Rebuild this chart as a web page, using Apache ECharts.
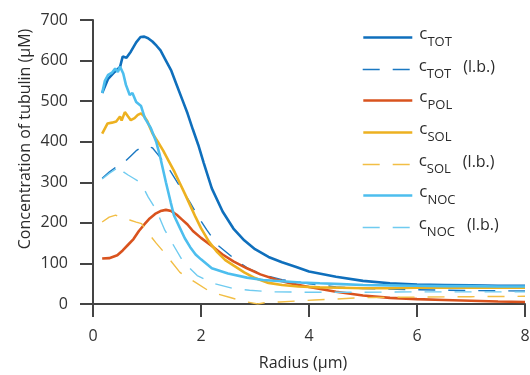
<!DOCTYPE html>
<html>
<head>
<meta charset="utf-8">
<script src="https://cdn.jsdelivr.net/npm/echarts@6/dist/echarts.min.js"></script>
<style>html,body{margin:0;padding:0;background:#fff}#c{width:530px;height:375px}</style>
</head>
<body>
<div id="c"></div>
<script>
// ---- data (radius in µm, concentration in µM) ----
const xTicks = [0, 2, 4, 6, 8];
const yTicks = [0, 100, 200, 300, 400, 500, 600, 700];

const rTOT = [0.17,0.28,0.4,0.5,0.55,0.62,0.7,0.8,0.88,0.95,1.02,1.1,1.18,1.25,1.35,1.45,1.55,1.65,1.75,1.85,1.95,2.05,2.2,2.4,2.6,2.8,3.0,3.25,3.5,3.75,4.0,4.5,5.0,5.5,6.0,6.5,7.0,7.5,8.0];
const vTOT = [520,555,572,584,610,607,622,645,658,659,655,647,636,625,600,575,540,505,470,430,392,348,285,228,186,157,135,116,103,92,80,67,57,51,48,47,46,45,45];

const rTOTlb = [0.17,0.3,0.45,0.5,0.6,0.7,0.8,0.9,1.0,1.1,1.24,1.43,1.57,1.8,1.93,2.11,2.31,2.63,2.87,3.15,3.5,4.0,4.5,5.0,6.0,7.0,8.0];
const vTOTlb = [310,325,340,347,352,365,378,386,389,385,362,328,298,250,219,182,145,110,88,72,60,50,42,38,35,33,32];

const rPOL = [0.17,0.3,0.45,0.55,0.65,0.75,0.85,0.95,1.05,1.15,1.25,1.35,1.45,1.55,1.65,1.75,1.85,2.0,2.2,2.4,2.6,2.85,3.1,3.4,3.65,4.0,4.5,5.0,5.5,6.0,6.5,7.0,7.5,8.0];
const vPOL = [112,113,120,132,146,160,180,196,211,222,229,232,229,220,208,196,180,163,143,122,105,88,73,60,51,42,30,21,15,12,10,8,6,5];

const rSOL = [0.17,0.27,0.35,0.43,0.5,0.53,0.59,0.65,0.70,0.77,0.83,0.89,0.95,1.0,1.1,1.2,1.3,1.4,1.5,1.6,1.7,1.8,1.9,2.0,2.15,2.3,2.45,2.6,2.8,3.0,3.25,3.5,3.8,4.2,4.6,5.0,5.5,6.0,6.5,7.0,7.5,8.0];
const vSOL = [420,445,447,450,462,452,473,462,453,458,466,470,462,452,421,400,378,353,328,300,272,243,214,187,153,128,108,95,78,64,52,47,43,41,40,39,39,40,40,40,40,40];

const rSOLlb = [0.17,0.3,0.42,0.5,0.55,0.68,0.8,0.9,0.98,1.17,1.3,1.43,1.61,1.75,1.89,2.17,2.54,2.81,3.05,3.22,3.46,4.1,4.5,4.85,5.2,6.0,7.0,8.0];
const vSOLlb = [202,214,219,214,210,207,202,198,182,150,130,108,78,65,54,30,16,6,0,4,5,10,12,15,16,17,18,19];

const rNOC = [0.17,0.22,0.28,0.35,0.41,0.46,0.5,0.56,0.61,0.68,0.73,0.80,0.89,0.96,1.07,1.17,1.24,1.35,1.44,1.5,1.6,1.7,1.8,1.9,2.0,2.2,2.5,2.85,3.15,3.5,3.85,4.2,4.6,5.0,5.5,6.0,6.5,7.0,7.5,8.0];
const vNOC = [520,550,565,570,580,572,585,568,540,515,520,498,488,458,434,400,365,300,250,218,190,162,140,122,110,88,75,65,59,56,53,51,49,47,46,45,44,44,43,43];

const rNOClb = [0.17,0.3,0.45,0.5,0.57,0.65,0.75,0.89,1.02,1.17,1.33,1.52,1.67,1.93,2.2,2.6,2.9,3.3,4.0,5.0,6.0,7.0,8.0];
const vNOClb = [308,322,335,342,325,318,310,298,264,232,182,138,104,70,52,38,34,30,29,29,30,30,30];

const seriesNames = ['cTOT', 'cTOT (l.b.)', 'cPOL', 'cSOL', 'cSOL (l.b.)', 'cNOC', 'cNOC (l.b.)'];
const seriesSubs  = ['TOT', 'TOT', 'POL', 'SOL', 'SOL', 'NOC', 'NOC'];
const seriesLB    = [false, true, false, false, true, false, true];
const seriesR = [rTOT, rTOTlb, rPOL, rSOL, rSOLlb, rNOC, rNOClb];
const seriesV = [vTOT, vTOTlb, vPOL, vSOL, vSOLlb, vNOC, vNOClb];

const xAxisName = 'Radius (µm)';
const yAxisName = 'Concentration of tubulin (µM)';

// ---- styles ----
const colors = ['#0f6fbc', '#1a78c2', '#d9531e', '#edb120', '#f2be45', '#4dbeee', '#6fcbf0'];
const FONT = 'Open Sans';
const dash = [17, 13];

const chart = echarts.init(document.getElementById('c'));

const series = seriesNames.map((n, i) => ({
  name: n,
  type: 'line',
  symbol: 'none',
  showSymbol: false,
  smooth: false,
  data: seriesR[i].map((r, j) => [r, seriesV[i][j]]),
  lineStyle: {
    color: colors[i],
    width: seriesLB[i] ? 1.4 : 2.6,
    type: seriesLB[i] ? dash : 'solid'
  },
  itemStyle: { color: colors[i] },
  emphasis: { disabled: true },
  animation: false
}));

const legendTop = [26, 58, 89, 121, 153, 184, 216];
const legends = seriesNames.map((n, i) => ({
  data: [n],
  left: 362,
  top: legendTop[i],
  itemWidth: 49,
  itemHeight: 18,
  padding: 0,
  itemStyle: { color: 'rgba(0,0,0,0)', borderWidth: 0, opacity: 0 },
  lineStyle: { color: colors[i], width: seriesLB[i] ? 1.4 : 2.6, type: seriesLB[i] ? dash : 'solid', opacity: 1 },
  selectedMode: false,
  formatter: () => '{c|c}{s|' + seriesSubs[i] + '}' + (seriesLB[i] ? '{lb|(l.b.)}' : ''),
  textStyle: {
    fontFamily: FONT,
    color: '#2b2b2b',
    rich: {
      c: { fontSize: 17, fontFamily: FONT, color: '#2b2b2b', padding: [0, 0, 6, 2] },
      s: { fontSize: 13, fontFamily: FONT, color: '#2b2b2b', padding: [10, 0, 0, 0] },
      lb: { fontSize: 16, fontFamily: FONT, color: '#2b2b2b', padding: [0, 0, 4, 12] }
    }
  }
}));

chart.setOption({
  animation: false,
  textStyle: { fontFamily: FONT },
  grid: { left: 93, right: 5, top: 20, bottom: 71, containLabel: false, outerBoundsMode: 'none' },
  legend: legends,
  xAxis: {
    type: 'value', min: xTicks[0], max: xTicks[xTicks.length - 1], interval: 2,
    name: xAxisName, nameLocation: 'middle', nameGap: 51,
    nameTextStyle: { fontFamily: FONT, fontSize: 16, color: '#2b2b2b', padding: [0, 12, 0, 0] },
    axisLine: { show: true, onZero: false, lineStyle: { color: '#444', width: 2 } },
    axisTick: { show: true, inside: false, length: 13, lineStyle: { color: '#444', width: 2 } },
    axisLabel: { margin: 24, fontFamily: FONT, fontSize: 16, color: '#333' },
    splitLine: { show: false }
  },
  yAxis: {
    type: 'value', min: yTicks[0], max: yTicks[yTicks.length - 1], interval: 100,
    axisLine: { show: true, lineStyle: { color: '#444', width: 2 } },
    axisTick: { show: true, inside: false, length: 13, lineStyle: { color: '#444', width: 2 } },
    axisLabel: { margin: 25, fontFamily: FONT, fontSize: 16, color: '#333' },
    splitLine: { show: false }
  },
  graphic: [{
    type: 'text',
    x: 25, y: 139,
    rotation: Math.PI / 2,
    style: { text: yAxisName, fontFamily: FONT, fontSize: 16, fill: '#2b2b2b', align: 'center', verticalAlign: 'middle' }
  }],
  series: series
});
</script>
</body>
</html>
